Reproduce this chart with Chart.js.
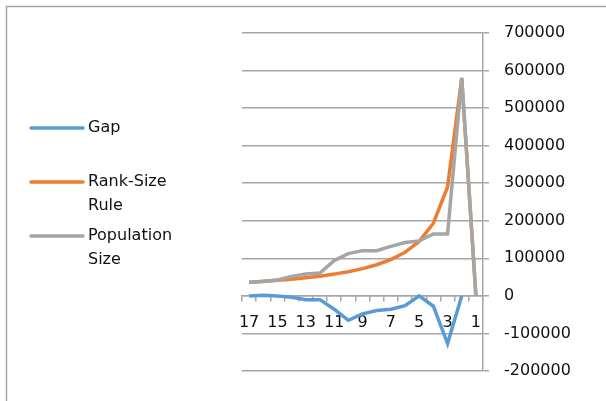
<!DOCTYPE html>
<html>

<head>
    <title>Rank-Size Rule</title>
    <script src="https://cdn.jsdelivr.net/npm/chart.js"></script>
    <style>
        body {
            margin: 0;
            background: #fff;
        }

        #chartContainer {
            width: 606px;
            height: 401px;
        }
    </style>
</head>

<body>
    <div id="chartContainer">
        <canvas id="myChart" width="606" height="401"></canvas>
    </div>

    <script>
        // categories (rank, shown reversed)
        const ranks = ['17', '16', '15', '14', '13', '12', '11', '10', '9', '8', '7', '6', '5', '4', '3', '2', '1'];
        // series values
        const gapValues = [0, 2000, 0, -3500, -10000, -10000, -35500, -65000, -48000, -39000, -35500, -26000, 0, -27500, -127000, 0, null];
        const rankSizeValues = [36000, 38500, 41500, 44500, 48500, 52500, 58000, 64500, 72500, 83000, 96500, 116000, 145000, 193500, 290000, 580000, 0];
        const populationValues = [35500, 39000, 42500, 51500, 58500, 61000, 94000, 112500, 120500, 120500, 132000, 142000, 146500, 165000, 165000, 580500, 0];
        const yTicks = { min: -200000, max: 700000, step: 100000 };

        const gridColor = '#a6a6a6';
        const font = { family: 'DejaVu Sans', size: 16 };

        // frame + left legend, drawn on the canvas
        const framePlugin = {
            id: 'frame',
            beforeDraw(chart) {
                const c = chart.ctx;
                c.save();
                c.fillStyle = '#fff';
                c.fillRect(0, 0, chart.width, chart.height);
                c.strokeStyle = '#a6a6a6';
                c.lineWidth = 1.5;
                c.strokeRect(6.5, 6.5, chart.width + 20, chart.height + 20);
                c.restore();
            },
            afterDraw(chart) {
                const c = chart.ctx;
                const rows = [
                    { y: 128, lines: ['Gap'] },
                    { y: 182, lines: ['Rank-Size', 'Rule'] },
                    { y: 236, lines: ['Population', 'Size'] }
                ];
                c.save();
                c.font = '16px "DejaVu Sans"';
                c.textBaseline = 'middle';
                c.fillStyle = '#111';
                chart.data.datasets.forEach((ds, i) => {
                    const r = rows[i];
                    c.strokeStyle = ds.borderColor;
                    c.lineWidth = 3.5;
                    c.lineCap = 'round';
                    c.beginPath();
                    c.moveTo(31, r.y);
                    c.lineTo(83, r.y);
                    c.stroke();
                    r.lines.forEach((t, j) => c.fillText(t, 88, r.y + j * 23.5));
                });
                c.restore();
            }
        };

        const ctx = document.getElementById('myChart').getContext('2d');
        const myChart = new Chart(ctx, {
            type: 'line',
            data: {
                labels: ranks,
                datasets: [{
                    label: 'Gap',
                    data: gapValues,
                    borderColor: '#5b9bd5',
                    backgroundColor: '#5b9bd5',
                    borderWidth: 3.5,
                    pointRadius: 0,
                    tension: 0,
                    order: 3
                }, {
                    label: 'Rank-Size Rule',
                    data: rankSizeValues,
                    borderColor: '#ed7d31',
                    backgroundColor: '#ed7d31',
                    borderWidth: 3.5,
                    pointRadius: 0,
                    tension: 0,
                    order: 2
                }, {
                    label: 'Population Size',
                    data: populationValues,
                    borderColor: '#a5a5a5',
                    backgroundColor: '#a5a5a5',
                    borderWidth: 3.5,
                    pointRadius: 0,
                    tension: 0,
                    order: 1
                }]
            },
            options: {
                responsive: false,
                animation: false,
                layout: {
                    padding: { left: 242, top: 33, bottom: 30, right: 0 }
                },
                plugins: {
                    legend: { display: false },
                    tooltip: { enabled: false }
                },
                scales: {
                    x: {
                        position: { y: 0 },
                        offset: true,
                        grid: {
                            offset: true,
                            drawOnChartArea: false,
                            drawTicks: true,
                            tickLength: 5,
                            color: gridColor,
                            lineWidth: 1.5
                        },
                        border: { color: gridColor, width: 1.5 },
                        ticks: {
                            maxRotation: 0,
                            autoSkip: false,
                            padding: 12,
                            color: '#111',
                            font: font,
                            callback: function (v, i) { return i % 2 === 0 ? ranks[i] : ''; }
                        }
                    },
                    y: {
                        position: 'right',
                        min: yTicks.min,
                        max: yTicks.max,
                        afterFit: function (scale) { scale.width = 123; },
                        grid: {
                            color: gridColor,
                            lineWidth: 1.5,
                            tickLength: 6
                        },
                        border: { color: gridColor, width: 1.5 },
                        ticks: {
                            stepSize: yTicks.step,
                            padding: 15,
                            color: '#111',
                            font: font,
                            callback: function (v) { return String(v); }
                        }
                    }
                }
            },
            plugins: [framePlugin]
        });
    </script>
</body>

</html>
